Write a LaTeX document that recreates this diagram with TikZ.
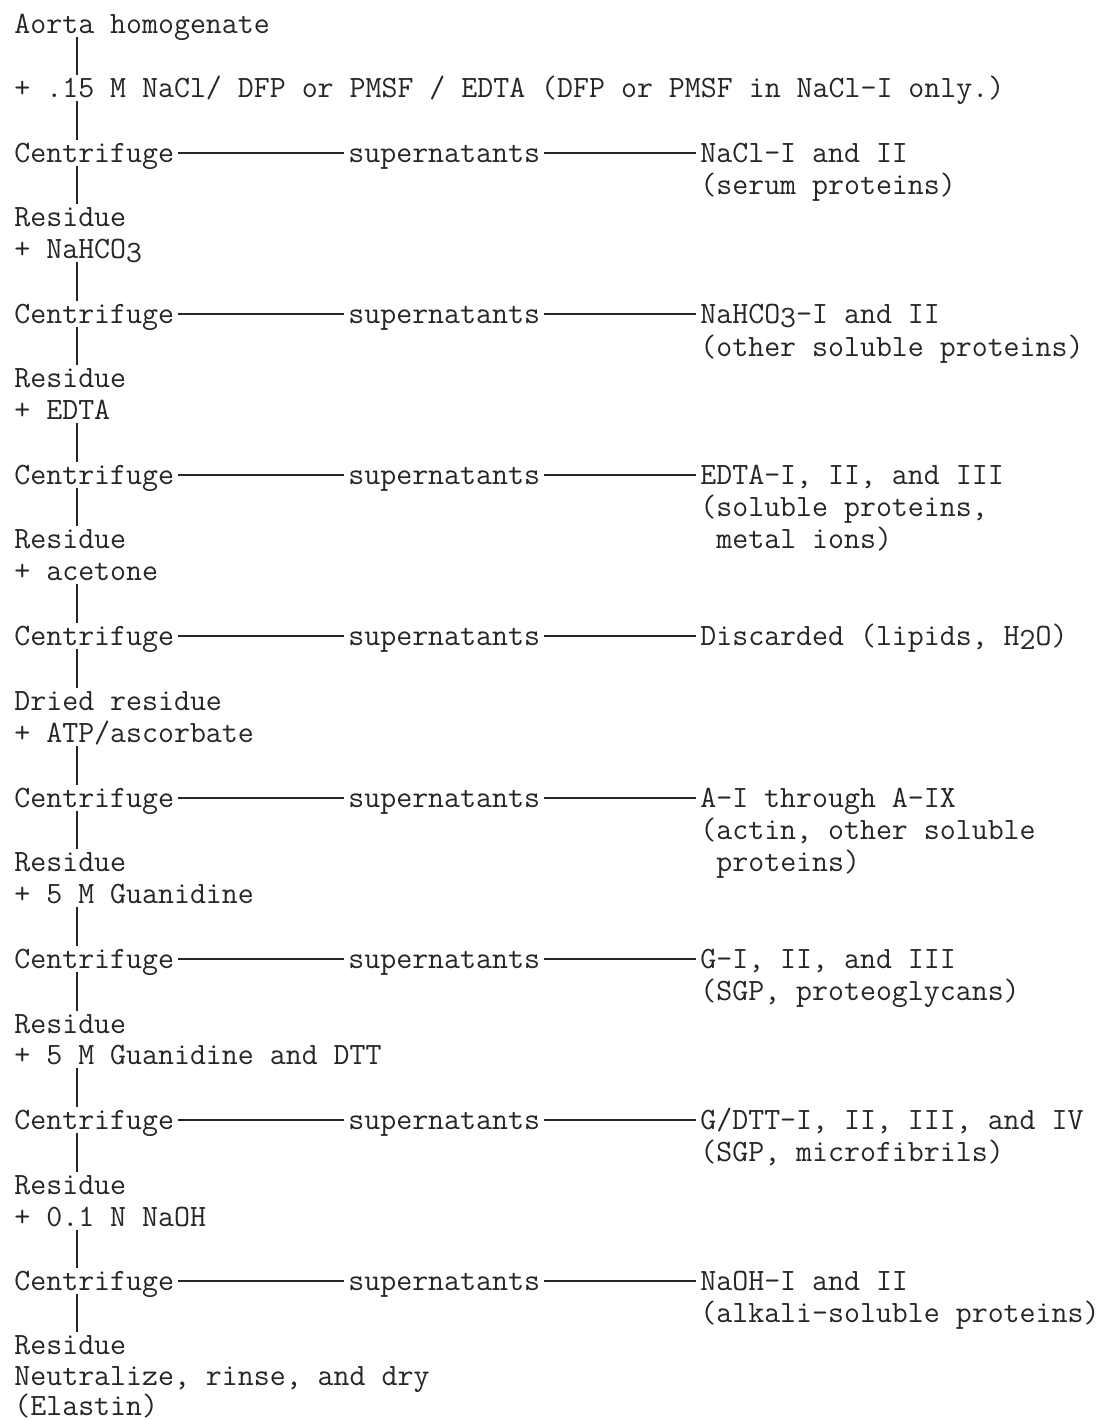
\documentclass[tikz,border=0pt]{standalone}
\usepackage{fontspec}
\usepackage{xcolor}
\usepackage{tikz}
\usetikzlibrary{positioning}

\newcommand{\typeface}{\fontsize{15.5pt}{16pt}\selectfont\ttfamily}
\newcommand{\subnum}[1]{\raisebox{-2.4pt}{#1}}

\begin{document}
\begin{tikzpicture}[x=0.5pt, y=-0.5pt]
            % Define style for the typed lines and the rules
            \tikzstyle{typed} = [anchor=base west, inner xsep=2pt, inner ysep=0pt, text height=11pt, text depth=2pt, font=\typeface, text=black!85]
            \tikzstyle{rule} = [draw=black!85, line width=1pt]

            \useasboundingbox [fill=white] (0,0) rectangle (1103,1420);
            \coordinate (spine) at (77,0);

            % Main column
            \node [typed] (aorta) at (10,33) {Aorta homogenate};
            \node [typed] (addA) at (10,97) {+ .15 M NaCl/ DFP or PMSF / EDTA (DFP or PMSF in NaCl-I only.)};
            \node [typed] (cfA) at (10,162) {Centrifuge};
            \node [typed] (resA) at (10,226) {Residue};
            \node [typed] (addB) at (10,258) {+ NaHCO\subnum{3}};
            \node [typed] (cfB) at (10,323) {Centrifuge};
            \node [typed] (resB) at (10,387) {Residue};
            \node [typed] (addC) at (10,419) {+ EDTA};
            \node [typed] (cfC) at (10,484) {Centrifuge};
            \node [typed] (resC) at (10,548) {Residue};
            \node [typed] (addD) at (10,580) {+ acetone};
            \node [typed] (cfD) at (10,645) {Centrifuge};
            \node [typed] (resD) at (10,710) {Dried residue};
            \node [typed] (addE) at (10,742) {+ ATP/ascorbate};
            \node [typed] (cfE) at (10,807) {Centrifuge};
            \node [typed] (resE) at (10,871) {Residue};
            \node [typed] (addF) at (10,903) {+ 5 M Guanidine};
            \node [typed] (cfF) at (10,968) {Centrifuge};
            \node [typed] (resF) at (10,1033) {Residue};
            \node [typed] (addG) at (10,1064) {+ 5 M Guanidine and DTT};
            \node [typed] (cfG) at (10,1129) {Centrifuge};
            \node [typed] (resG) at (10,1194) {Residue};
            \node [typed] (addH) at (10,1226) {+ 0.1 N NaOH};
            \node [typed] (cfH) at (10,1290) {Centrifuge};
            \node [typed] (resH) at (10,1354) {Residue};
            \node [typed] (neutral) at (10,1385) {Neutralize, rinse, and dry};
            \node [typed] (elastin) at (10,1415) {(Elastin)};

            % Supernatants
            \node [typed] (supA) at (344,162) {supernatants};
            \node [typed] (supB) at (344,323) {supernatants};
            \node [typed] (supC) at (344,484) {supernatants};
            \node [typed] (supD) at (344,645) {supernatants};
            \node [typed] (supE) at (344,807) {supernatants};
            \node [typed] (supF) at (344,968) {supernatants};
            \node [typed] (supG) at (344,1129) {supernatants};
            \node [typed] (supH) at (344,1290) {supernatants};

            % Fractions
            \node [typed] (outA) at (696,162) {NaCl-I and II};
            \node [typed] (noteA) at (696,194) {(serum proteins)};
            \node [typed] (outB) at (696,323) {NaHCO\subnum{3}-I and II};
            \node [typed] (noteB) at (696,356) {(other soluble proteins)};
            \node [typed] (outC) at (696,484) {EDTA-I, II, and III};
            \node [typed] (noteC) at (696,516) {(soluble proteins,};
            \node [typed] (noteCb) at (712,548) {metal ions)};
            \node [typed] (outD) at (696,645) {Discarded (lipids, H\subnum{2}O)};
            \node [typed] (outE) at (696,807) {A-I through A-IX};
            \node [typed] (noteE) at (696,839) {(actin, other soluble};
            \node [typed] (noteEb) at (712,871) {proteins)};
            \node [typed] (outF) at (696,968) {G-I, II, and III};
            \node [typed] (noteF) at (696,1000) {(SGP, proteoglycans)};
            \node [typed] (outG) at (696,1129) {G/DTT-I, II, III, and IV};
            \node [typed] (noteG) at (696,1161) {(SGP, microfibrils)};
            \node [typed] (outH) at (696,1290) {NaOH-I and II};
            \node [typed] (noteH) at (696,1322) {(alkali-soluble proteins)};

            % Vertical rules down the main column
            \draw [rule] (aorta.south -| spine) -- (addA.north -| spine);
            \draw [rule] (addA.south -| spine) -- (cfA.north -| spine);
            \draw [rule] (cfA.south -| spine) -- (resA.north -| spine);
            \draw [rule] (addB.south -| spine) -- (cfB.north -| spine);
            \draw [rule] (cfB.south -| spine) -- (resB.north -| spine);
            \draw [rule] (addC.south -| spine) -- (cfC.north -| spine);
            \draw [rule] (cfC.south -| spine) -- (resC.north -| spine);
            \draw [rule] (addD.south -| spine) -- (cfD.north -| spine);
            \draw [rule] (cfD.south -| spine) -- (resD.north -| spine);
            \draw [rule] (addE.south -| spine) -- (cfE.north -| spine);
            \draw [rule] (cfE.south -| spine) -- (resE.north -| spine);
            \draw [rule] (addF.south -| spine) -- (cfF.north -| spine);
            \draw [rule] (cfF.south -| spine) -- (resF.north -| spine);
            \draw [rule] (addG.south -| spine) -- (cfG.north -| spine);
            \draw [rule] (cfG.south -| spine) -- (resG.north -| spine);
            \draw [rule] (addH.south -| spine) -- (cfH.north -| spine);
            \draw [rule] (cfH.south -| spine) -- (resH.north -| spine);

            % Horizontal rules to the supernatants and fractions
            \draw [rule] (cfA) -- (supA) -- (outA);
            \draw [rule] (cfB) -- (supB) -- (outB);
            \draw [rule] (cfC) -- (supC) -- (outC);
            \draw [rule] (cfD) -- (supD) -- (outD);
            \draw [rule] (cfE) -- (supE) -- (outE);
            \draw [rule] (cfF) -- (supF) -- (outF);
            \draw [rule] (cfG) -- (supG) -- (outG);
            \draw [rule] (cfH) -- (supH) -- (outH);
        \end{tikzpicture}
\end{document}
